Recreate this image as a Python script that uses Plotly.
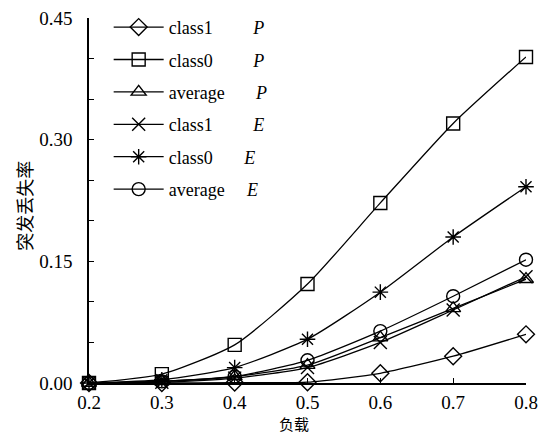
import plotly.graph_objects as go

load = [0.2, 0.3, 0.4, 0.5, 0.6, 0.7, 0.8]
class1_P = [0.0, 0.0, 0.0005, 0.001, 0.012, 0.033, 0.060]
class0_P = [0.0, 0.011, 0.047, 0.122, 0.222, 0.320, 0.402]
avg_P = [0.0, 0.002, 0.008, 0.022, 0.056, 0.092, 0.128]
class1_E = [0.0, 0.001, 0.006, 0.019, 0.050, 0.090, 0.131]
class0_E = [0.0, 0.004, 0.019, 0.054, 0.112, 0.180, 0.242]
avg_E = [0.0, 0.002, 0.008, 0.028, 0.064, 0.107, 0.152]

y_tickvals = [0.0, 0.15, 0.30, 0.45]
y_ticktext = ["0.00", "0.15", "0.30", "0.45"]
x_tickvals = [0.2, 0.3, 0.4, 0.5, 0.6, 0.7, 0.8]
x_ticktext = ["0.2", "0.3", "0.4", "0.5", "0.6", "0.7", "0.8"]

NB = "&nbsp;"
series = [
    ("class1" + NB * 9 + "<i>P</i>", class1_P, "diamond-open"),
    ("class0" + NB * 9 + "<i>P</i>", class0_P, "square-open"),
    ("average" + NB * 7 + "<i>P</i>", avg_P, "triangle-up-open"),
    ("class1" + NB * 9 + "<i>E</i>", class1_E, "x-thin-open"),
    ("class0" + NB * 7 + "<i>E</i>", class0_E, "asterisk-open"),
    ("average" + NB * 5 + "<i>E</i>", avg_E, "circle-open"),
]

fig = go.Figure()
for i, (name, vals, sym) in enumerate(series):
    fig.add_trace(go.Scatter(
        x=load, y=vals, name=name, mode="lines+markers",
        line=dict(color="black", width=1.3, shape="spline", smoothing=0.6),
        marker=dict(symbol=sym, size=13, color="black",
                    line=dict(color="black", width=1.4)),
        legendgroup=f"g{i}", cliponaxis=False,
    ))

font_family = "Liberation Serif"
cjk_font = "Noto Sans CJK SC"
tick_font = dict(size=19, family=font_family, color="black")
fig.update_layout(
    width=546, height=435,
    margin=dict(l=89, r=8, t=16, b=52),
    paper_bgcolor="white", plot_bgcolor="white",
    font=dict(family=font_family, color="black", size=18),
    showlegend=True,
    legend=dict(x=0.045, y=1.025, xanchor="left", yanchor="top",
                bgcolor="rgba(0,0,0,0)", font=dict(size=18, family=font_family, color="black"),
                tracegroupgap=6, itemwidth=50),
    xaxis=dict(range=[0.2, 0.8], tickvals=x_tickvals, ticktext=x_ticktext,
               showgrid=False, zeroline=False, showline=True, linecolor="black",
               linewidth=1.5, ticks="inside", ticklen=5, tickcolor="black",
               tickfont=tick_font, ticklabeloverflow="allow",
               ticklabelstandoff=1),
    yaxis=dict(range=[0, 0.45], tickvals=y_tickvals, ticktext=y_ticktext,
               showgrid=False, zeroline=False, showline=True, linecolor="black",
               linewidth=1.5, ticks="inside", ticklen=5, tickcolor="black",
               tickfont=tick_font, ticklabeloverflow="allow",
               ticklabelstandoff=11,
               minor=dict(tickvals=[0.05, 0.10, 0.20, 0.25, 0.35, 0.40],
                          ticks="inside", ticklen=5, tickcolor="black", showgrid=False)),
    annotations=[
        dict(text="负载", xref="paper", yref="paper", x=(300 - 89) / 449, y=-(424 - 383) / 367,
             xanchor="center", yanchor="middle", showarrow=False,
             font=dict(size=15, family=cjk_font, color="#000000")),
        dict(text="突发丢失率", xref="paper", yref="paper", x=-(89 - 22) / 449, y=(383 - 205) / 367,
             xanchor="center", yanchor="middle", showarrow=False, textangle=-90,
             font=dict(size=18, family=cjk_font, color="#000000")),
    ],
)

fig.write_html("out.html")
